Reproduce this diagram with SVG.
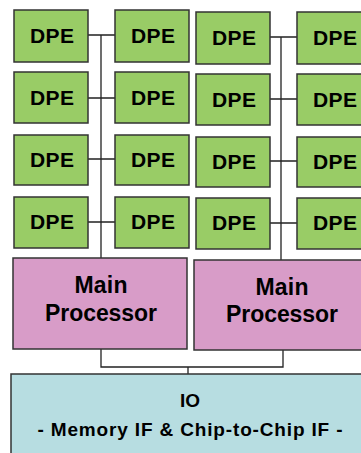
<svg xmlns="http://www.w3.org/2000/svg" width="361" height="453" viewBox="0 0 361 453">
<style>
.dpe{fill:#99cc66;stroke:#333;stroke-width:1.5}
.mp{fill:#d89cc8;stroke:#333;stroke-width:1.5}
.io{fill:#b7dde1;stroke:#333;stroke-width:1.5}
.t{font-family:"Liberation Sans",Arial,sans-serif;font-weight:bold;fill:#000;text-anchor:middle}
.d{font-size:21px}
.m{font-size:23px}
.i{font-size:19px}
.c{fill:none;stroke:#222;stroke-width:1.3}
</style>
<rect width="361" height="453" fill="#fff"/>
<g id="connectors">
<path class="c" d="M101 35V258M88 35H115M88 98H115M88 159H115M88 222H115"/>
<path class="c" d="M281 37V260M270 37H297M270 99H297M270 161H297M270 223H297"/>
<path class="c" d="M101 349V367H283V350M188 367V374"/>
</g>
<g id="dpe-1-1"><rect class="dpe" x="14" y="10" width="74" height="52"/><text class="t d" x="52" y="43" textLength="44">DPE</text></g>
<g id="dpe-1-2"><rect class="dpe" x="115" y="10" width="74" height="52"/><text class="t d" x="153" y="43" textLength="44">DPE</text></g>
<g id="dpe-1-3"><rect class="dpe" x="196" y="12" width="74" height="52"/><text class="t d" x="234" y="45" textLength="44">DPE</text></g>
<g id="dpe-1-4"><rect class="dpe" x="297" y="12" width="74" height="52"/><text class="t d" x="335" y="45" textLength="44">DPE</text></g>
<g id="dpe-2-1"><rect class="dpe" x="14" y="72" width="74" height="51"/><text class="t d" x="52" y="105" textLength="44">DPE</text></g>
<g id="dpe-2-2"><rect class="dpe" x="115" y="72" width="74" height="51"/><text class="t d" x="153" y="105" textLength="44">DPE</text></g>
<g id="dpe-2-3"><rect class="dpe" x="196" y="74" width="74" height="51"/><text class="t d" x="234" y="107" textLength="44">DPE</text></g>
<g id="dpe-2-4"><rect class="dpe" x="297" y="74" width="74" height="51"/><text class="t d" x="335" y="107" textLength="44">DPE</text></g>
<g id="dpe-3-1"><rect class="dpe" x="14" y="135" width="74" height="50"/><text class="t d" x="52" y="167" textLength="44">DPE</text></g>
<g id="dpe-3-2"><rect class="dpe" x="115" y="135" width="74" height="50"/><text class="t d" x="153" y="167" textLength="44">DPE</text></g>
<g id="dpe-3-3"><rect class="dpe" x="196" y="137" width="74" height="50"/><text class="t d" x="234" y="169" textLength="44">DPE</text></g>
<g id="dpe-3-4"><rect class="dpe" x="297" y="137" width="74" height="50"/><text class="t d" x="335" y="169" textLength="44">DPE</text></g>
<g id="dpe-4-1"><rect class="dpe" x="14" y="197" width="74" height="51"/><text class="t d" x="52" y="229" textLength="44">DPE</text></g>
<g id="dpe-4-2"><rect class="dpe" x="115" y="197" width="74" height="51"/><text class="t d" x="153" y="229" textLength="44">DPE</text></g>
<g id="dpe-4-3"><rect class="dpe" x="196" y="198" width="74" height="51"/><text class="t d" x="234" y="230" textLength="44">DPE</text></g>
<g id="dpe-4-4"><rect class="dpe" x="297" y="198" width="74" height="51"/><text class="t d" x="335" y="230" textLength="44">DPE</text></g>
<g id="main-processor-1"><rect class="mp" x="13" y="258" width="174" height="91"/><text class="t m" x="101" y="293" textLength="53">Main</text><text class="t m" x="101" y="321" textLength="112">Processor</text></g>
<g id="main-processor-2"><rect class="mp" x="194" y="260" width="174" height="90"/><text class="t m" x="282" y="295" textLength="53">Main</text><text class="t m" x="282" y="322" textLength="112">Processor</text></g>
<g id="io"><rect class="io" x="11" y="374" width="360" height="90"/><text class="t i" x="190" y="407">IO</text><text class="t i" x="190" y="436" textLength="305">- Memory IF &amp; Chip-to-Chip IF -</text></g>
</svg>
